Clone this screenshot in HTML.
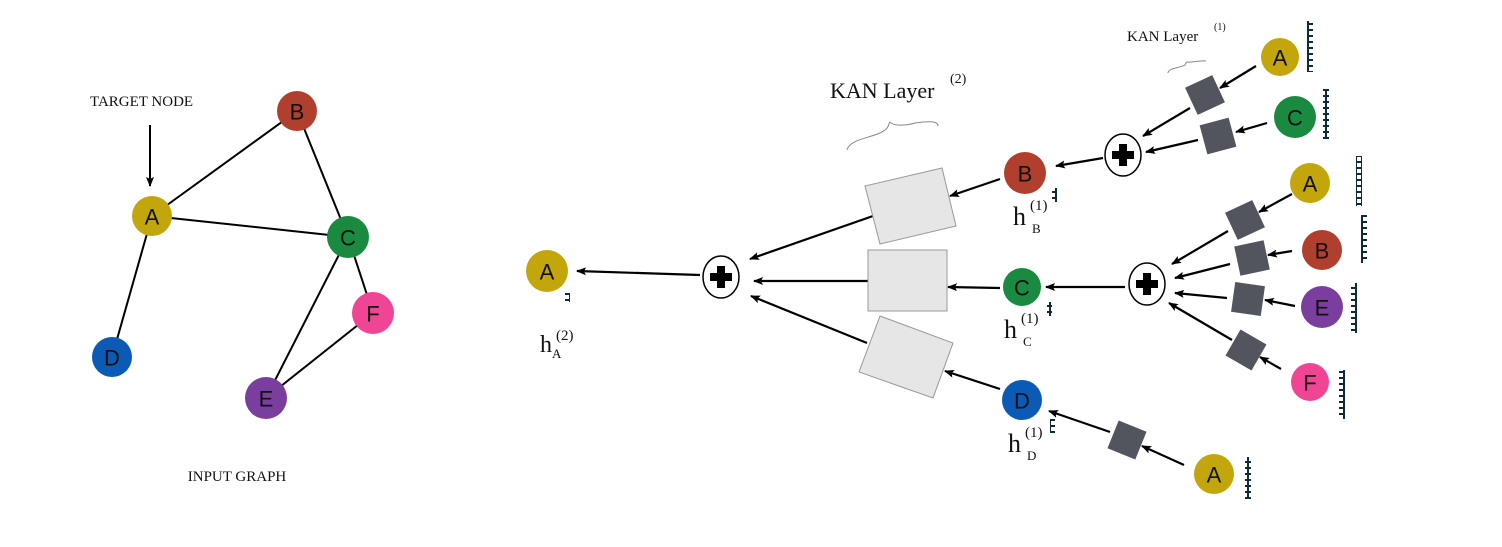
<!DOCTYPE html>
<html><head><meta charset="utf-8"><style>
html,body{margin:0;padding:0;background:#fff;}
svg{display:block;}
.n{font-family:"Liberation Sans",sans-serif;font-size:22px;text-anchor:middle;dominant-baseline:central;fill:#111;}
.t{font-family:"Liberation Serif",serif;fill:#111;}
</style></head><body>
<svg width="1502" height="547" viewBox="0 0 1502 547" xmlns="http://www.w3.org/2000/svg">
<defs>
<marker id="ar" markerWidth="10" markerHeight="8" refX="9" refY="4" orient="auto" markerUnits="userSpaceOnUse">
<path d="M0,0 L10,4 L0,8 L2,4 z" fill="#000"/></marker>
<pattern id="vec" width="6" height="6" patternUnits="userSpaceOnUse"><rect x="0.5" y="0.5" width="5" height="5" fill="#fff" stroke="#0d2b3a" stroke-width="1"/></pattern>
</defs>
<!-- Input graph -->
<g stroke="#000" stroke-width="2">
<line x1="152" y1="216" x2="297" y2="111"/>
<line x1="152" y1="216" x2="348" y2="237"/>
<line x1="152" y1="216" x2="112" y2="357"/>
<line x1="297" y1="111" x2="348" y2="237"/>
<line x1="348" y1="237" x2="373" y2="313"/>
<line x1="348" y1="237" x2="266" y2="398"/>
<line x1="266" y1="398" x2="373" y2="313"/>
<line x1="150" y1="125" x2="150" y2="186" marker-end="url(#ar)"/>
</g>
<circle cx="152" cy="216" r="20" fill="#c2a60c"/><text class="n" x="152" y="217">A</text>
<circle cx="297" cy="111" r="20" fill="#b03f2e"/><text class="n" x="297" y="112">B</text>
<circle cx="348" cy="237" r="21" fill="#1a8a40"/><text class="n" x="348" y="238">C</text>
<circle cx="112" cy="357" r="20" fill="#0a5ab6"/><text class="n" x="112" y="358">D</text>
<circle cx="266" cy="398" r="21" fill="#7a3f9e"/><text class="n" x="266" y="399">E</text>
<circle cx="373" cy="313" r="21" fill="#f04594"/><text class="n" x="373" y="314">F</text>
<text class="t" x="90" y="106" font-size="15">TARGET NODE</text>
<text class="t" x="237" y="481" font-size="15" text-anchor="middle">INPUT GRAPH</text>

<!-- Middle -->
<g stroke="#000" stroke-width="2.2">
<line x1="700" y1="275" x2="577" y2="271" marker-end="url(#ar)"/>
<line x1="873" y1="216" x2="750" y2="259" marker-end="url(#ar)"/>
<line x1="868" y1="281" x2="754" y2="281" marker-end="url(#ar)"/>
<line x1="867" y1="343" x2="751" y2="296" marker-end="url(#ar)"/>
<line x1="1000" y1="179" x2="950" y2="196" marker-end="url(#ar)"/>
<line x1="1000" y1="288" x2="948" y2="287" marker-end="url(#ar)"/>
<line x1="1000" y1="389" x2="945" y2="371" marker-end="url(#ar)"/>
</g>
<circle cx="547" cy="271" r="21" fill="#c2a60c"/><text class="n" x="547" y="272">A</text>
<rect x="565" y="293" width="5" height="9" fill="url(#vec)"/>
<text class="t" x="540" y="352" font-size="24">h</text><text class="t" x="552" y="358" font-size="13">A</text><text class="t" x="556" y="340" font-size="15">(2)</text>
<ellipse cx="721" cy="277" rx="18" ry="21" fill="#fff" stroke="#000" stroke-width="1.5"/>
<path d="M717,266h8v7h7v8h-7v7h-8v-7h-7v-8h7z" fill="#000"/>
<polygon points="865,186 942,168 956,226 880,244" fill="#e6e6e6" stroke="#999" stroke-width="1"/>
<rect x="868" y="250" width="79" height="61" fill="#e6e6e6" stroke="#999" stroke-width="1"/>
<polygon points="880,316 953,343 933,398 859,372" fill="#e6e6e6" stroke="#999" stroke-width="1"/>
<text class="t" x="830" y="98" font-size="22">KAN Layer</text><text class="t" x="950" y="83" font-size="14">(2)</text>
<path d="M847,150 C850,138 875,138 885,130 C890,126 888,124 890,122 C893,126 905,126 915,123 C930,121 938,121 938,126" fill="none" stroke="#888" stroke-width="1"/>

<circle cx="1025" cy="173" r="21" fill="#b03f2e"/><text class="n" x="1025" y="174">B</text>
<circle cx="1022" cy="287" r="19" fill="#1a8a40"/><text class="n" x="1022" y="288">C</text>
<circle cx="1022" cy="400" r="20" fill="#0a5ab6"/><text class="n" x="1022" y="401">D</text>
<rect x="1052" y="188" width="5" height="14" fill="url(#vec)"/>
<rect x="1047" y="302" width="5" height="14" fill="url(#vec)"/>
<rect x="1050" y="419" width="5" height="14" fill="url(#vec)"/>
<text class="t" x="1013" y="225" font-size="26">h</text><text class="t" x="1032" y="233" font-size="13">B</text><text class="t" x="1030" y="210" font-size="15">(1)</text>
<text class="t" x="1004" y="338" font-size="26">h</text><text class="t" x="1023" y="346" font-size="13">C</text><text class="t" x="1021" y="323" font-size="15">(1)</text>
<text class="t" x="1008" y="452" font-size="26">h</text><text class="t" x="1027" y="460" font-size="13">D</text><text class="t" x="1025" y="437" font-size="15">(1)</text>

<!-- Right -->
<g stroke="#000" stroke-width="2.2">
<line x1="1103" y1="158" x2="1056" y2="166" marker-end="url(#ar)"/>
<line x1="1190" y1="108" x2="1143" y2="136" marker-end="url(#ar)"/>
<line x1="1198" y1="140" x2="1146" y2="152" marker-end="url(#ar)"/>
<line x1="1256" y1="66" x2="1220" y2="88" marker-end="url(#ar)"/>
<line x1="1267" y1="123" x2="1236" y2="132" marker-end="url(#ar)"/>
<line x1="1125" y1="287" x2="1046" y2="287" marker-end="url(#ar)"/>
<line x1="1228" y1="231" x2="1172" y2="264" marker-end="url(#ar)"/>
<line x1="1230" y1="264" x2="1175" y2="278" marker-end="url(#ar)"/>
<line x1="1227" y1="298" x2="1175" y2="293" marker-end="url(#ar)"/>
<line x1="1232" y1="340" x2="1169" y2="303" marker-end="url(#ar)"/>
<line x1="1292" y1="194" x2="1259" y2="212" marker-end="url(#ar)"/>
<line x1="1292" y1="251" x2="1268" y2="255" marker-end="url(#ar)"/>
<line x1="1295" y1="306" x2="1265" y2="300" marker-end="url(#ar)"/>
<line x1="1281" y1="369" x2="1260" y2="357" marker-end="url(#ar)"/>
<line x1="1110" y1="432" x2="1049" y2="411" marker-end="url(#ar)"/>
<line x1="1184" y1="465" x2="1142" y2="446" marker-end="url(#ar)"/>
</g>
<ellipse cx="1123" cy="155" rx="18" ry="21" fill="#fff" stroke="#000" stroke-width="1.5"/>
<path d="M1119,144h8v7h7v8h-7v7h-8v-7h-7v-8h7z" fill="#000"/>
<ellipse cx="1147" cy="284" rx="18" ry="21" fill="#fff" stroke="#000" stroke-width="1.5"/>
<path d="M1143,273h8v7h7v8h-7v7h-8v-7h-7v-8h7z" fill="#000"/>
<g fill="#52545e">
<rect x="-15" y="-15" width="30" height="30" transform="translate(1205,95) rotate(-25)"/>
<rect x="-15" y="-15" width="30" height="30" transform="translate(1218,136) rotate(-15)"/>
<rect x="-15" y="-15" width="30" height="30" transform="translate(1245,220) rotate(-25)"/>
<rect x="-15" y="-15" width="30" height="30" transform="translate(1252,258) rotate(-12)"/>
<rect x="-15" y="-15" width="30" height="30" transform="translate(1248,299) rotate(8)"/>
<rect x="-15" y="-15" width="30" height="30" transform="translate(1246,350) rotate(30)"/>
<rect x="-15" y="-15" width="30" height="30" transform="translate(1127,440) rotate(22)"/>
</g>
<text class="t" x="1127" y="41" font-size="15">KAN Layer</text><text class="t" x="1214" y="30" font-size="10">(1)</text>
<path d="M1168,73 C1168,68 1180,68 1185,65 C1186,62 1187,62 1187,62 C1190,63 1200,60 1206,61" fill="none" stroke="#888" stroke-width="1"/>

<circle cx="1280" cy="57" r="19" fill="#c2a60c"/><text class="n" x="1280" y="58">A</text>
<circle cx="1295" cy="117" r="21" fill="#1a8a40"/><text class="n" x="1295" y="118">C</text>
<circle cx="1310" cy="183" r="20" fill="#c2a60c"/><text class="n" x="1310" y="184">A</text>
<circle cx="1322" cy="250" r="20" fill="#b03f2e"/><text class="n" x="1322" y="251">B</text>
<circle cx="1322" cy="307" r="21" fill="#7a3f9e"/><text class="n" x="1322" y="308">E</text>
<circle cx="1310" cy="382" r="19" fill="#f04594"/><text class="n" x="1310" y="383">F</text>
<circle cx="1214" cy="474" r="20" fill="#c2a60c"/><text class="n" x="1214" y="475">A</text>
<rect x="1307" y="21" width="6" height="51" fill="url(#vec)"/>
<rect x="1323" y="89" width="6" height="50" fill="url(#vec)"/>
<rect x="1356" y="156" width="6" height="50" fill="url(#vec)"/>
<rect x="1361" y="215" width="6" height="48" fill="url(#vec)"/>
<rect x="1351" y="283" width="6" height="50" fill="url(#vec)"/>
<rect x="1339" y="370" width="6" height="49" fill="url(#vec)"/>
<rect x="1245" y="457" width="6" height="42" fill="url(#vec)"/>
</svg>
</body></html>
